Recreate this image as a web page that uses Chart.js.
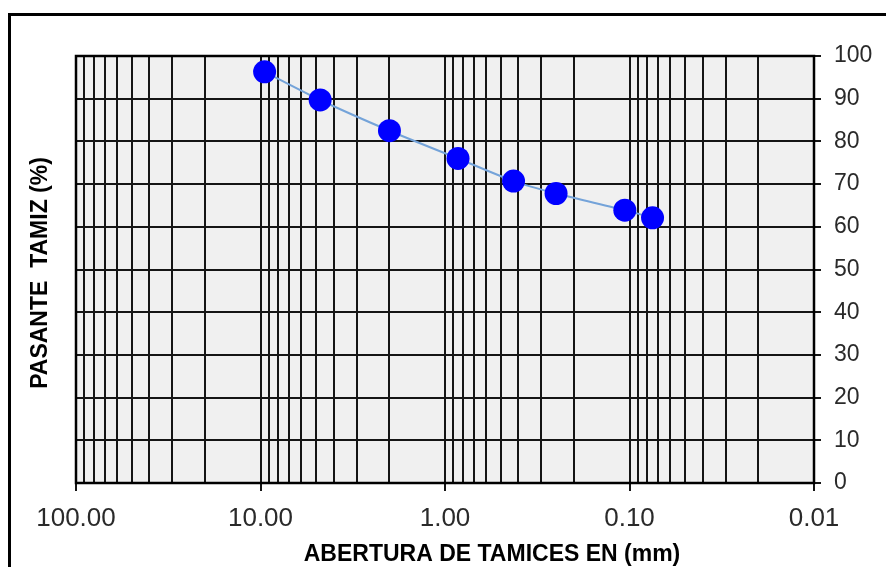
<!DOCTYPE html>
<html><head><meta charset="utf-8">
<script src="https://cdn.jsdelivr.net/npm/chart.js@4"></script>
<style>html,body{margin:0;padding:0;background:#fff;}canvas{display:block;}</style>
</head><body>
<canvas id="c" width="886" height="567"></canvas>
<script>
// Sieve openings (mm) and percent passing
const sieveSizes = [9.5, 4.75, 2.00, 0.85, 0.425, 0.25, 0.106, 0.075];
const percentPassing = [96.3, 89.7, 82.5, 76.0, 70.7, 67.8, 63.9, 62.1];
// Axis ticks
const xDecades = [100, 10, 1, 0.1, 0.01];
const xTickLabels = ['100.00', '10.00', '1.00', '0.10', '0.01'];
const xMinorFactors = [2, 3, 4, 5, 6, 7, 8, 9];
const yTicks = [0, 10, 20, 30, 40, 50, 60, 70, 80, 90, 100];
const xTitle = 'ABERTURA DE TAMICES EN (mm)';
const yTitle = 'PASANTE  TAMIZ (%)';

const xGridValues = xDecades.slice();
xDecades.slice(1).forEach(d => xMinorFactors.forEach(m => xGridValues.push(m * d)));
xGridValues.sort((a, b) => a - b);
function decadeIndex(v) { return xDecades.findIndex(d => Math.abs(v / d - 1) < 1e-6); }

const fontFamily = '"Liberation Sans", Arial, sans-serif';
const gridColor = '#151515';

const framePlugin = {
  id: 'frame',
  beforeDraw(chart) {
    const { ctx, chartArea: a } = chart;
    ctx.save();
    ctx.fillStyle = '#ffffff';
    ctx.fillRect(0, 0, chart.width, chart.height);
    ctx.fillStyle = '#f0f0f0';
    ctx.fillRect(a.left, a.top, a.right - a.left, a.bottom - a.top);
    ctx.restore();
  },
  afterDraw(chart) {
    const { ctx, chartArea: a } = chart;
    ctx.save();
    ctx.strokeStyle = '#000';
    ctx.lineWidth = 2.5;
    ctx.strokeRect(a.left, a.top, a.right - a.left, a.bottom - a.top);
    // outer chart frame
    ctx.lineWidth = 3;
    ctx.beginPath();
    ctx.moveTo(9.5, chart.height + 2);
    ctx.lineTo(9.5, 14.5);
    ctx.lineTo(chart.width + 2, 14.5);
    ctx.stroke();
    // axis titles
    ctx.fillStyle = '#000';
    ctx.font = 'bold 23px ' + fontFamily;
    ctx.textAlign = 'center';
    ctx.textBaseline = 'alphabetic';
    ctx.fillText(xTitle, 492, 561);
    ctx.translate(46.5, 273);
    ctx.rotate(-Math.PI / 2);
    ctx.fillText(yTitle, 0, 0);
    ctx.restore();
  }
};

new Chart(document.getElementById('c'), {
  type: 'line',
  data: {
    datasets: [{
      data: sieveSizes.map((s, i) => ({ x: s, y: percentPassing[i] })),
      borderColor: '#74a3d9',
      borderWidth: 2,
      pointRadius: 11.5,
      pointBackgroundColor: '#0000ff',
      pointBorderColor: '#0000ff',
      pointBorderWidth: 0,
      tension: 0.25
    }]
  },
  options: {
    responsive: false,
    animation: false,
    devicePixelRatio: 1,
    layout: { padding: { left: 76, top: 56, right: 0, bottom: 0 } },
    plugins: { legend: { display: false }, tooltip: { enabled: false } },
    scales: {
      x: {
        type: 'logarithmic',
        reverse: true,
        min: 0.01,
        max: 100,
        position: 'bottom',
        afterBuildTicks: s => { s.ticks = xGridValues.map(v => ({ value: v })); },
        afterFit: s => { s.height = 84; },
        ticks: {
          autoSkip: false, maxRotation: 0, minRotation: 0,
          font: { family: fontFamily, size: 26 }, color: '#2a2a2a', padding: 12,
          callback: (v) => { const i = decadeIndex(v); return i >= 0 ? xTickLabels[i] : ''; }
        },
        grid: {
          color: gridColor, lineWidth: 2, tickLength: 8,
          tickColor: ctx => (ctx.tick && decadeIndex(ctx.tick.value) >= 0) ? gridColor : 'rgba(0,0,0,0)'
        },
        border: { display: false }
      },
      y: {
        position: 'right',
        min: 0, max: 100,
        afterBuildTicks: s => { s.ticks = yTicks.map(v => ({ value: v })); },
        afterFit: s => { s.width = 72; },
        ticks: { font: { family: fontFamily, size: 23 }, color: '#2a2a2a', padding: 13 },
        grid: { color: gridColor, lineWidth: 2, tickLength: 7, tickColor: gridColor },
        border: { display: false }
      }
    }
  },
  plugins: [framePlugin]
});
</script>
</body></html>
